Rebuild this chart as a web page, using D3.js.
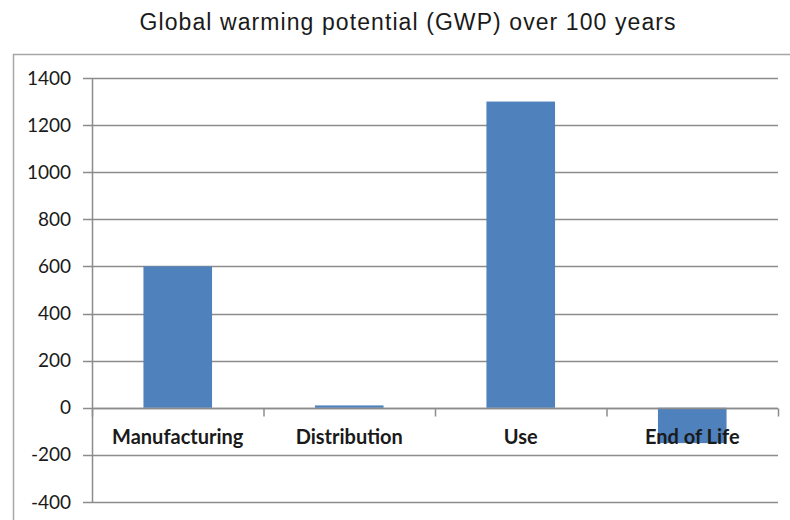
<!DOCTYPE html>
<html><head><meta charset="utf-8">
<script src="https://cdn.jsdelivr.net/npm/d3@7"></script>
<style>body{margin:0;background:#fff}</style>
</head><body>
<svg id="c" width="790" height="520"></svg>
<script>
const title = "Global warming potential (GWP) over 100 years";
const categories = ["Manufacturing", "Distribution", "Use", "End of Life"];
const values = [600, 10, 1300, -150];
const yTicks = [-400, -200, 0, 200, 400, 600, 800, 1000, 1200, 1400];

const svg = d3.select("#c");
svg.append("rect").attr("width",790).attr("height",520).attr("fill","#fff");
// chart frame
svg.append("path").attr("d","M13.5,530 V54.5 H800").attr("fill","none").attr("stroke","#a6a6a6").attr("stroke-width",1.5);

svg.append("text").attr("x",407.5).attr("y",30).attr("text-anchor","middle")
  .attr("font-family","Liberation Sans, Arial, sans-serif").attr("font-size",23)
  .attr("textLength",536).attr("lengthAdjust","spacing")
  .attr("fill","#1a1a1a").text(title);

const y = d3.scaleLinear().domain([-400,1400]).range([502,78]);
const x = d3.scaleBand().domain(categories).range([92,778]).paddingInner(0.6).paddingOuter(0.3);

// gridlines
svg.append("g").selectAll("line").data(yTicks).join("line")
  .attr("x1",83).attr("x2",778).attr("y1",d=>Math.round(y(d))+0.5).attr("y2",d=>Math.round(y(d))+0.5)
  .attr("stroke","#8c8c8c").attr("stroke-width",1.5);

// y axis
const yAxis = d3.axisLeft(y).tickValues(yTicks).tickSize(0).tickPadding(21)
  .tickFormat(d => String(d));
const gy = svg.append("g").attr("transform","translate(92,0)").call(yAxis);
gy.select(".domain").remove();
gy.selectAll("text").attr("font-family","Lato, sans-serif").attr("font-size",19).attr("fill","#1a1a1a");
svg.append("line").attr("x1",92.5).attr("x2",92.5).attr("y1",y(1400)).attr("y2",y(-400)).attr("stroke","#8c8c8c").attr("stroke-width",1.5);

// bars
svg.append("g").selectAll("rect").data(values).join("rect")
  .attr("x",(d,i)=>x(categories[i])).attr("width",x.bandwidth())
  .attr("y",d=>y(Math.max(0,d))).attr("height",d=>Math.abs(y(d)-y(0)))
  .attr("fill","#4f81bd");

// x axis baseline and ticks
const y0 = Math.round(y(0))+0.5;
svg.append("line").attr("x1",92).attr("x2",778).attr("y1",y0).attr("y2",y0).attr("stroke","#8c8c8c").attr("stroke-width",1.5);
const bounds = d3.range(categories.length+1).map(i=>92 + i*x.step());
svg.append("g").selectAll("line").data(bounds).join("line")
  .attr("x1",d=>d+0.5).attr("x2",d=>d+0.5).attr("y1",y0).attr("y2",y0+8)
  .attr("stroke","#8c8c8c").attr("stroke-width",1.5);

// category labels
svg.append("g").selectAll("text").data(categories).join("text")
  .attr("x",d=>x(d)+x.bandwidth()/2).attr("y",444).attr("text-anchor","middle")
  .attr("font-family","Lato, sans-serif").attr("font-weight","bold").attr("font-size",20).attr("fill","#1a1a1a")
  .text(d=>d);
</script>
</body></html>
